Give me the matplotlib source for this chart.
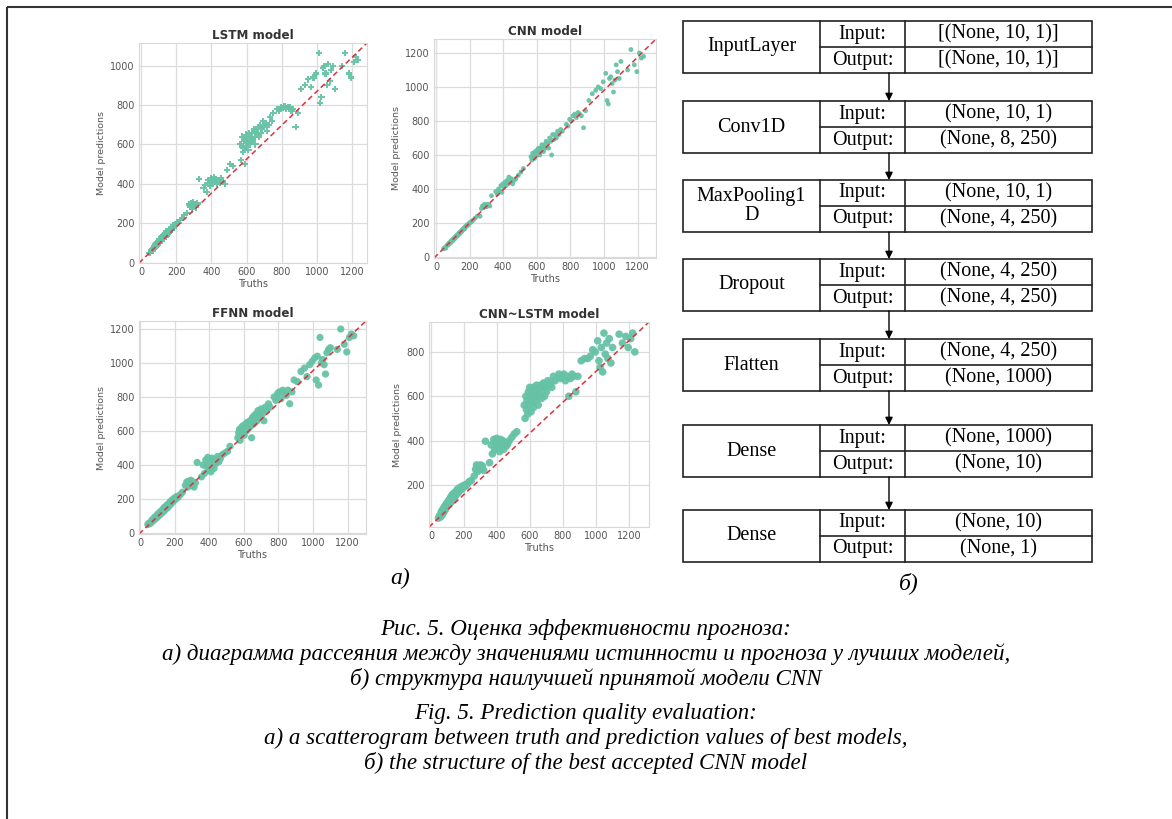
import numpy as np
import matplotlib
matplotlib.use("Agg")
import matplotlib.pyplot as plt
from matplotlib.patches import Rectangle, FancyArrowPatch

# shared test-set truths
truths = [45, 52, 58, 63, 68, 72, 76, 80, 84, 88, 92, 96, 100, 104, 108, 112, 116, 120, 124, 128,
          132, 136, 140, 144, 148, 152, 156, 160, 165, 170, 175, 180, 186, 192, 198, 205, 212, 220, 232, 245,
          262, 270, 276, 282, 288, 294, 300, 306, 312, 320, 330,
          355, 365, 372, 380, 386, 392, 398, 404, 410, 416, 422, 428, 434, 440, 448, 456, 465, 475,
          490, 505, 520,
          565, 570, 575, 578, 582, 586, 590, 594, 598, 602, 606, 610, 614, 618, 622, 626, 630, 635,
          640, 645, 650, 655, 660, 665, 670, 676, 682, 688, 694, 700, 708, 716, 724, 732, 742, 752,
          775, 785, 795, 805, 815, 825, 835, 845, 855, 865, 878, 890,
          910, 930, 950, 965, 980, 995,
          1010, 1018, 1025, 1032, 1040, 1048, 1056, 1064, 1072, 1080, 1090, 1100,
          1140, 1160, 1180, 1195, 1210, 1222, 1235]

pred_lstm = [50, 48, 62, 70, 60, 82, 74, 95, 80, 100, 86, 110, 98, 120, 102, 128, 108, 135, 118, 142,
             125, 150, 130, 158, 140, 162, 148, 170, 155, 178, 168, 190, 175, 198, 190, 208, 200, 215, 228, 240,
             250, 295, 285, 300, 270, 305, 290, 298, 280, 300, 425,
             380, 395, 360, 420, 405, 390, 430, 415, 400, 435, 410, 425, 398, 420, 405, 430, 415, 400,
             470, 500, 490,
             600, 520, 640, 560, 580, 620, 500, 650, 590, 610, 630, 570, 660, 600, 640, 615, 660, 625,
             680, 640, 600, 670, 650, 690, 640, 700, 660, 680, 720, 690, 710, 670, 700, 740, 720, 760,
             780, 770, 790, 785, 795, 780, 790, 790, 770, 780, 690, 760,
             880, 900, 930, 890, 940, 960,
             1065, 810, 840, 990, 1000, 960, 900, 1010, 920, 980, 1000, 880,
             1000, 1065, 960, 940, 1020, 1045, 1030]

pred_cnn = [48, 55, 52, 66, 72, 70, 80, 78, 88, 85, 96, 92, 104, 100, 112, 108, 120, 118, 128, 124,
            136, 132, 145, 140, 150, 148, 160, 158, 170, 165, 180, 178, 190, 188, 200, 202, 210, 215, 228, 240,
            240, 285, 300, 290, 310, 300, 295, 310, 305, 300, 360,
            385, 370, 400, 390, 420, 380, 430, 410, 440, 420, 450, 430, 470, 440, 460, 430, 450, 460,
            480, 500, 520,
            590, 570, 610, 590, 600, 580, 620, 600, 610, 630, 600, 640, 615, 600, 640, 625, 660, 640,
            620, 660, 640, 680, 650, 670, 640, 700, 680, 600, 720, 690, 720, 700, 740, 720, 750, 740,
            780, 770, 810, 800, 830, 840, 820, 850, 840, 830, 760, 860,
            920, 960, 980, 1000, 990, 1030,
            1080, 920, 900, 1050, 1060, 1020, 970, 1040, 1130, 1090, 1050, 1150,
            1100, 1220, 1130, 1090, 1200, 1170, 1180]

pred_ffnn = [50, 58, 55, 62, 75, 68, 82, 76, 92, 84, 98, 90, 108, 98, 115, 105, 124, 112, 130, 120,
             140, 128, 150, 135, 155, 145, 165, 150, 172, 162, 185, 172, 195, 185, 205, 198, 215, 210, 225, 240,
             280, 300, 270, 305, 285, 310, 280, 300, 270, 295, 415,
             330, 400, 350, 430, 390, 445, 370, 420, 360, 440, 400, 380, 430, 410, 450, 420, 440, 460,
             470, 480, 510,
             560, 590, 610, 545, 600, 620, 580, 630, 600, 575, 620, 640, 600, 650, 610, 640, 620, 660,
             630, 560, 680, 640, 690, 650, 700, 660, 720, 680, 700, 730, 700, 660, 740, 720, 760, 740,
             800, 780, 820, 830, 790, 840, 820, 810, 840, 760, 830, 900,
             890, 950, 970, 920, 990, 1010,
             1030, 900, 1040, 870, 1150, 1000, 1020, 990, 935, 1060, 1080, 1090,
             1080, 1200, 1110, 1065, 1150, 1170, 1160]

pred_cnn_lstm = [50, 62, 55, 80, 65, 90, 75, 100, 85, 110, 95, 118, 105, 125, 110, 135, 118, 145, 125, 155,
                 130, 160, 140, 165, 150, 170, 160, 180, 165, 185, 175, 190, 180, 195, 190, 200, 195, 205, 215, 220,
                 240, 270, 290, 260, 285, 270, 290, 275, 285, 265, 397,
                 300, 380, 340, 405, 360, 390, 410, 370, 395, 350, 405, 380, 400, 360, 390, 375, 385, 400,
                 415, 430, 440,
                 560, 500, 600, 540, 580, 520, 620, 560, 640, 590, 530, 610, 570, 640, 550, 600, 620, 580,
                 650, 600, 560, 630, 610, 650, 590, 640, 660, 600, 640, 620, 670, 650, 660, 640, 690, 670,
                 700, 680, 690, 700, 670, 690, 600, 680, 700, 690, 620, 690,
                 760, 770, 770, 780, 810, 800,
                 850, 760, 730, 820, 710, 885, 790, 840, 770, 860, 750, 820,
                 880, 840, 870, 820, 860, 885, 800]

titles = ["LSTM model", "CNN model", "FFNN model", "CNN~LSTM model"]

# network structure table
layer_names = ["InputLayer", "Conv1D", "MaxPooling1\nD", "Dropout", "Flatten", "Dense", "Dense"]
layer_in = ["[(None, 10, 1)]", "(None, 10, 1)", "(None, 10, 1)", "(None, 4, 250)",
            "(None, 4, 250)", "(None, 1000)", "(None, 10)"]
layer_out = ["[(None, 10, 1)]", "(None, 8, 250)", "(None, 4, 250)", "(None, 4, 250)",
             "(None, 1000)", "(None, 10)", "(None, 1)"]

caption_ru = ["Рис. 5. Оценка эффективности прогноза:",
              "а) диаграмма рассеяния между значениями истинности и прогноза у лучших моделей,",
              "б) структура наилучшей принятой модели CNN"]
caption_en = ["Fig. 5. Prediction quality evaluation:",
              "а) a scatterogram between truth and prediction values of best models,",
              "б) the structure of the best accepted CNN model"]

W, H = 1172, 819
fig = plt.figure(figsize=(W / 100, H / 100), dpi=100)

def px_axes(l, t, r, b):
    return fig.add_axes([l / W, 1 - b / H, (r - l) / W, (b - t) / H])

green = "#66c2a5"
panels = [
    # (rect px, predictions, marker, size, xlim, ylim, yticks)
    ((139, 43, 367, 263), pred_lstm, "P", 20, (-12, 1284), (-2, 1115), [0, 200, 400, 600, 800, 1000]),
    ((434, 39, 656, 258), pred_cnn, "o", 12, (-12, 1309), (-6, 1282), [0, 200, 400, 600, 800, 1000, 1200]),
    ((139, 321, 366, 534), pred_ffnn, "o", 27, (-6, 1306), (-6, 1247), [0, 200, 400, 600, 800, 1000, 1200]),
    ((429, 322, 649, 527), pred_cnn_lstm, "o", 30, (-12, 1321), (10, 935), [200, 400, 600, 800]),
]

for (rect, preds, mk, sz, xl, yl, yt), title in zip(panels, titles):
    ax = px_axes(*rect)
    ax.set_axisbelow(True)
    ax.grid(True, color="#dcdcdc", lw=0.9)
    for sp in ax.spines.values():
        sp.set_color("#d8d8d8")
    ax.scatter(truths, preds, marker=mk, s=sz, color=green, edgecolors="none", alpha=0.95)
    ax.plot([0, 1], [0, 1], transform=ax.transAxes, ls="--", color="#e0303a", lw=1.1,
            dashes=(3.5, 2.2))
    ax.set_xlim(*xl)
    ax.set_ylim(*yl)
    ax.set_xticks([0, 200, 400, 600, 800, 1000, 1200])
    ax.set_yticks(yt)
    ax.tick_params(length=0, labelsize=7, colors="#555555", pad=3)
    ax.set_xlabel("Truths", fontsize=7, color="#555555", labelpad=1)
    ax.set_ylabel("Model predictions", fontsize=6.8, color="#555555", labelpad=3)
    ax.set_title(title, fontsize=8.6, fontweight="bold", color="#333333", pad=3)

# overlay in pixel coordinates for the table, captions and frame
ov = fig.add_axes([0, 0, 1, 1])
ov.set_xlim(0, W)
ov.set_ylim(H, 0)
ov.axis("off")

serif = "Liberation Serif"
x0, x1, x2, x3 = 683, 820, 905, 1092
tops = [21, 101, 180, 259, 339, 425, 510]
bh = 52
for i, top in enumerate(tops):
    ov.add_patch(Rectangle((x0, top), x3 - x0, bh, fill=False, ec="#222222", lw=1.2))
    ov.plot([x1, x1], [top, top + bh], color="#222222", lw=1.2)
    ov.plot([x2, x2], [top, top + bh], color="#222222", lw=1.2)
    ov.plot([x1, x3], [top + bh / 2, top + bh / 2], color="#222222", lw=1.2)
    ov.text((x0 + x1) / 2, top + bh / 2, layer_names[i], family=serif, fontsize=14.5,
            ha="center", va="center", linespacing=1.05)
    ov.text((x1 + x2) / 2, top + bh / 4, "Input:", family=serif, fontsize=14.5, ha="center", va="center")
    ov.text((x1 + x2) / 2, top + 3 * bh / 4, "Output:", family=serif, fontsize=14.5, ha="center", va="center")
    ov.text((x2 + x3) / 2, top + bh / 4, layer_in[i], family=serif, fontsize=14.5, ha="center", va="center")
    ov.text((x2 + x3) / 2, top + 3 * bh / 4, layer_out[i], family=serif, fontsize=14.5, ha="center", va="center")
    if i < len(tops) - 1:
        ov.add_patch(FancyArrowPatch((889, top + bh), (889, tops[i + 1]), arrowstyle="-|>",
                                     mutation_scale=11, color="black", lw=1.0, shrinkA=0, shrinkB=0))

ov.text(400, 578, "а)", family=serif, style="italic", fontsize=17, ha="center", va="center")
ov.text(909, 583, "б)", family=serif, style="italic", fontsize=17, ha="center", va="center")

for k, line in enumerate(caption_ru):
    ov.text(586, 630 + 24.5 * k, line, family=serif, style="italic", fontsize=16.6, ha="center", va="center")
for k, line in enumerate(caption_en):
    ov.text(586, 714 + 24.5 * k, line, family=serif, style="italic", fontsize=16.6, ha="center", va="center")

# page frame: top and left rule
ov.plot([7, W], [7, 7], color="#333333", lw=1.5, solid_capstyle="butt")
ov.plot([7, 7], [7, H], color="#333333", lw=1.5, solid_capstyle="butt")

fig.savefig("out.png", dpi=100)
